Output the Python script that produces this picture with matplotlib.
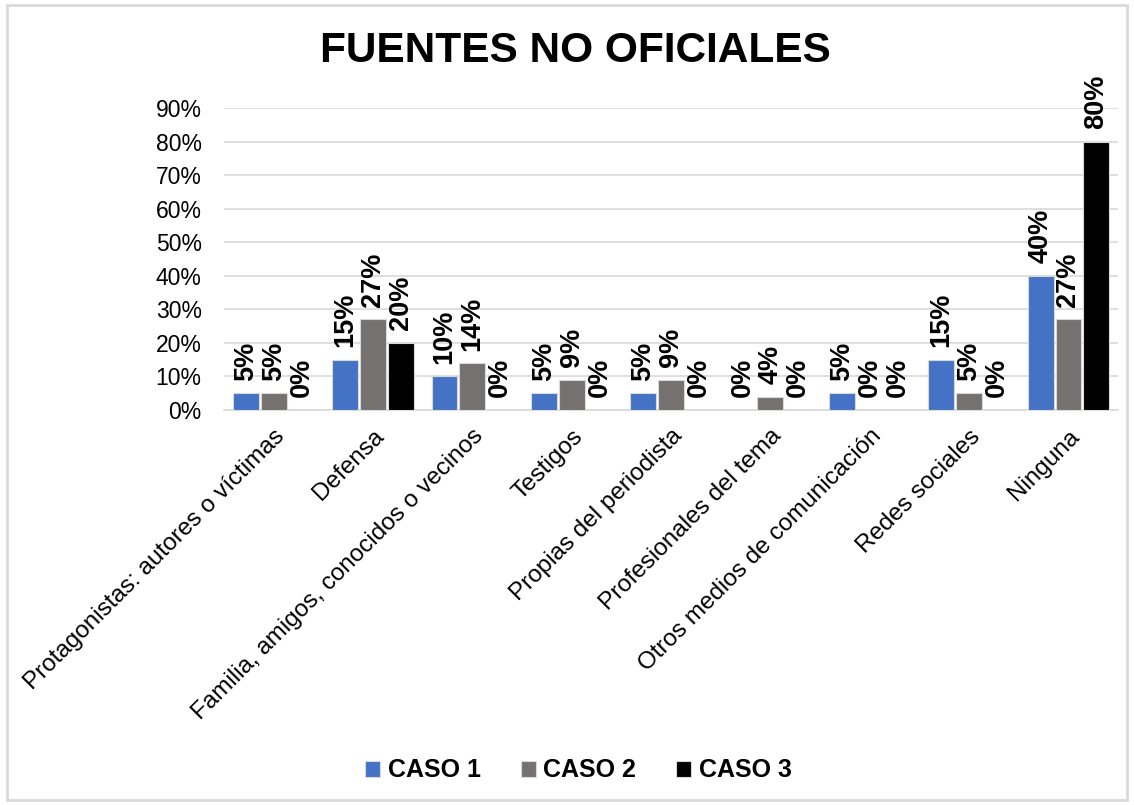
import matplotlib
matplotlib.use('Agg')
import matplotlib.pyplot as plt
import numpy as np
from matplotlib.patches import Rectangle

plt.rcParams['font.family'] = ['Liberation Sans', 'DejaVu Sans']

categorias = ["Protagonistas: autores o víctimas", "Defensa",
              "Familia, amigos, conocidos o vecinos", "Testigos",
              "Propias del periodista", "Profesionales del tema",
              "Otros medios de comunicación", "Redes sociales", "Ninguna"]
caso1 = [5, 15, 10, 5, 5, 0, 5, 15, 40]
caso2 = [5, 27, 14, 9, 9, 4, 0, 5, 27]
caso3 = [0, 20, 0, 0, 0, 0, 0, 0, 80]
series = ["CASO 1", "CASO 2", "CASO 3"]
colores = ["#4472C4", "#767171", "#000000"]

fig = plt.figure(figsize=(11.34, 8.05), dpi=100)
ax = fig.add_axes([0.1975, 0.4907, 0.7885, 0.3751])

x = np.arange(len(categorias))
w = 0.28
for i, (vals, nombre, c) in enumerate(zip([caso1, caso2, caso3], series, colores)):
    pos = x + (i - 1) * w
    ax.bar(pos, np.array(vals) / 100, w * 0.93, color=c, label=nombre,
           edgecolor="#D9D9D9", linewidth=0.8, zorder=3)
    for p, v in zip(pos, vals):
        ax.annotate(f"{v}%", (p, v / 100), xytext=(0, 9), textcoords="offset points",
                    rotation=90, ha="center", va="bottom", fontsize=19.5,
                    fontweight="bold")

ax.set_ylim(0, 0.9)
ax.set_xlim(-0.5, len(categorias) - 0.5)
ax.set_yticks(np.arange(0, 0.91, 0.1))
ax.set_yticklabels([f"{int(round(t*100))}%" for t in np.arange(0, 0.91, 0.1)], fontsize=16.5)
ax.set_xticks(x)
ax.set_xticklabels(categorias, rotation=45, ha="right", rotation_mode="anchor", fontsize=17.5)
ax.tick_params(length=0)
ax.tick_params(axis="y", pad=16)
ax.tick_params(axis="x", pad=11)
ax.yaxis.grid(True, color="#D9D9D9", linewidth=1.2, zorder=0)
for s in ["top", "right", "left"]:
    ax.spines[s].set_visible(False)
ax.spines["bottom"].set_color("#D9D9D9")
ax.spines["bottom"].set_linewidth(1.2)

fig.suptitle("FUENTES NO OFICIALES", fontsize=30.5, fontweight="bold", x=0.507, y=0.962)

leg = fig.legend(loc="center", bbox_to_anchor=(0.51, 0.043), ncol=3, frameon=False,
                 prop={"size": 18, "weight": "bold"}, handlelength=0.6, handleheight=0.6,
                 handletextpad=0.3, columnspacing=1.6)

fig.patches.append(Rectangle((0.006, 0.006), 0.988, 0.988, transform=fig.transFigure,
                             fill=False, edgecolor="#D9D9D9", linewidth=2))

plt.savefig("out.png", dpi=100)
